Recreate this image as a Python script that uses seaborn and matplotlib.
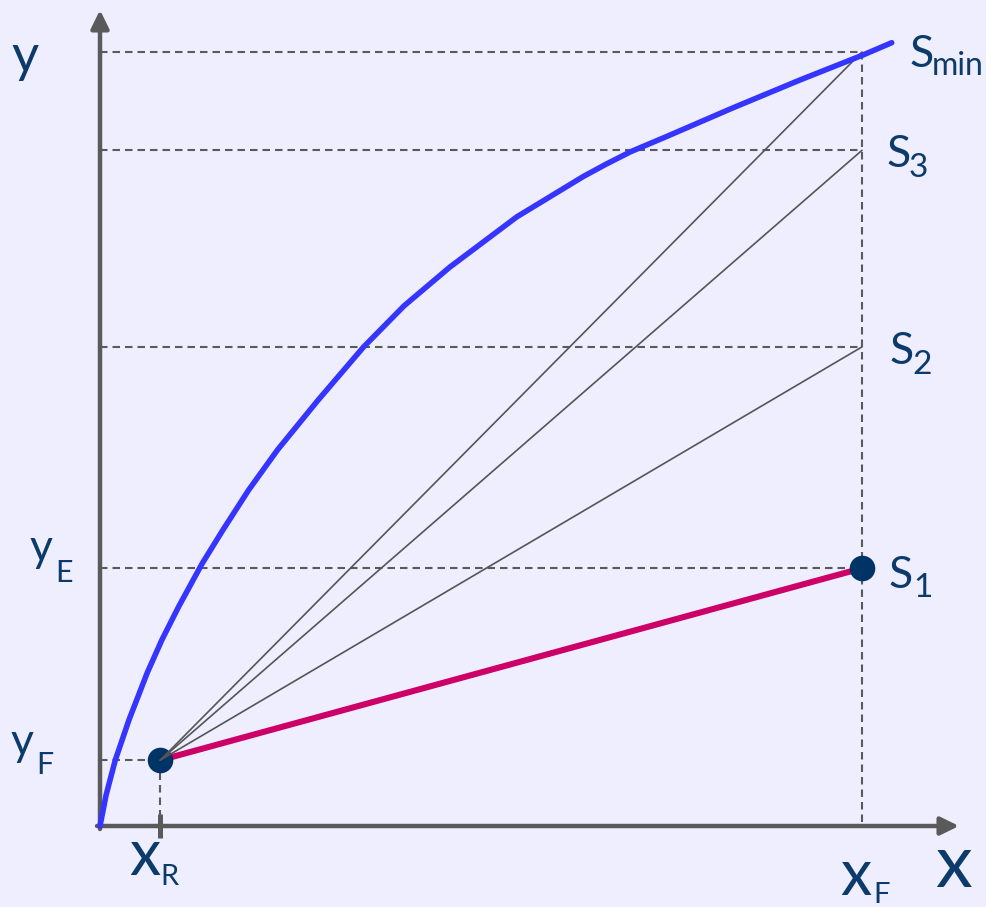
import matplotlib
matplotlib.use("Agg")
import matplotlib.pyplot as plt
import pandas as pd
import seaborn as sns

# Equilibrium (extract) curve, read point by point
eq_x = [0.000, 0.008, 0.020, 0.038, 0.062, 0.081, 0.103, 0.134, 0.161, 0.195,
        0.233, 0.286, 0.346, 0.399, 0.459, 0.547, 0.634, 0.664, 0.696, 0.744,
        0.831, 0.919, 1.001, 1.039]
eq_y = [0.000, 0.040, 0.085, 0.137, 0.198, 0.240, 0.283, 0.339, 0.382, 0.434,
        0.486, 0.550, 0.619, 0.672, 0.722, 0.787, 0.839, 0.855, 0.871, 0.891,
        0.928, 0.964, 0.996, 1.012]

# Raffinate point R and feed composition
x_r, y_f = 0.079, 0.085
x_f = 1.0
y_e = 0.333

# Operating lines from R to x_F for each solvent ratio
op_names = ["S_min", "S_3", "S_2", "S_1"]
op_end_y = [1.000, 0.873, 0.619, 0.333]

BG = "#EEEEFF"
AXIS = "#5A5A5A"
TEXT = "#0B3A6B"
BLUE = "#3535FF"
MAGENTA = "#CC0066"
DOT = "#003366"

sns.set_theme(style="white", rc={"axes.facecolor": BG, "figure.facecolor": BG})
plt.rcParams["font.family"] = ["Lato", "DejaVu Sans"]

W, H = 987, 907
fig = plt.figure(figsize=(W / 100, H / 100), dpi=100)
ax = fig.add_axes([0, 0, 1, 1])

# pixel frame: origin at (100, 826), x_F at 862 px, S_min at 52 px
X0, Y0, SX, SY = 100, 826, 762, 774


def P(px, py):
    return (px - X0) / SX, (Y0 - py) / SY


ax.set_xlim(P(0, 0)[0], P(W, 0)[0])
ax.set_ylim(P(0, H)[1], P(0, 0)[1])
ax.axis("off")

# dashed guide lines
dash = dict(color=AXIS, lw=1.5, dashes=(3.6, 2.4), zorder=1)
for yv in op_end_y:
    ax.plot([0, x_f], [yv, yv], **dash)
ax.plot([0, x_r], [y_f, y_f], **dash)
ax.plot([x_f, x_f], [max(op_end_y), 0], **dash)
ax.plot([x_r, x_r], [y_f, 0], **dash)

# axes with arrow heads
arrow = dict(arrowstyle="-|>,head_length=0.55,head_width=0.27", color=AXIS,
             lw=3.2, shrinkA=0, shrinkB=0, mutation_scale=20)
ax.annotate("", xy=P(100, 10), xytext=P(100, 829), arrowprops=arrow, zorder=2)
ax.annotate("", xy=P(959, 826), xytext=P(97, 826), arrowprops=arrow, zorder=2)
# tick at x_R
ax.plot([x_r, x_r], [P(0, 814)[1], P(0, 838)[1]], color=AXIS, lw=3.6,
        solid_capstyle="butt", zorder=2)

# operating lines
ops = pd.DataFrame({
    "x": [x_r, x_f] * len(op_names),
    "y": [v for e in op_end_y for v in (y_f, e)],
    "line": [n for n in op_names for _ in range(2)],
})
thin = ops[ops["line"] != "S_1"]
sns.lineplot(data=thin, x="x", y="y", units="line", estimator=None,
             color="#555555", lw=1.2, ax=ax, zorder=6)
sns.lineplot(data=ops[ops["line"] == "S_1"], x="x", y="y", estimator=None,
             color=MAGENTA, lw=4.4, ax=ax, zorder=4)

# equilibrium curve
eq = pd.DataFrame({"x": eq_x, "y": eq_y})
sns.lineplot(data=eq, x="x", y="y", estimator=None, sort=False,
             color=BLUE, lw=4.0, ax=ax, zorder=7,
             solid_joinstyle="round", solid_capstyle="round")

# end points
pts = pd.DataFrame({"x": [x_r, x_f], "y": [y_f, y_e]})
sns.scatterplot(data=pts, x="x", y="y", s=340, color=DOT, linewidth=0,
                ax=ax, zorder=5)


def label(main, sub, main_pos, sub_pos, main_size, sub_size):
    ax.text(*P(*main_pos), main, color=TEXT, fontsize=main_size,
            ha="left", va="baseline", clip_on=False)
    if sub:
        ax.text(*P(*sub_pos), sub, color=TEXT, fontsize=sub_size,
                ha="left", va="baseline", clip_on=False)


label("S", "min", (909, 67), (932, 75), 32, 23)
label("S", "3", (886, 167), (909, 177), 32, 24)
label("S", "2", (889, 364), (912, 374), 32, 24)
label("S", "1", (888, 588), (913, 597), 32, 24)
label("y", "E", (30, 561), (55, 582), 32, 22)
label("y", "F", (11, 755), (36, 774), 32, 22)
label("x", "R", (129, 875), (160, 885), 45, 21)
label("x", "F", (840, 895), (873, 903), 45, 21)
label("x", None, (935, 887), None, 53, None)
label("y", None, (11, 72), None, 38, None)

fig.savefig("out.png", dpi=100, facecolor=BG)
